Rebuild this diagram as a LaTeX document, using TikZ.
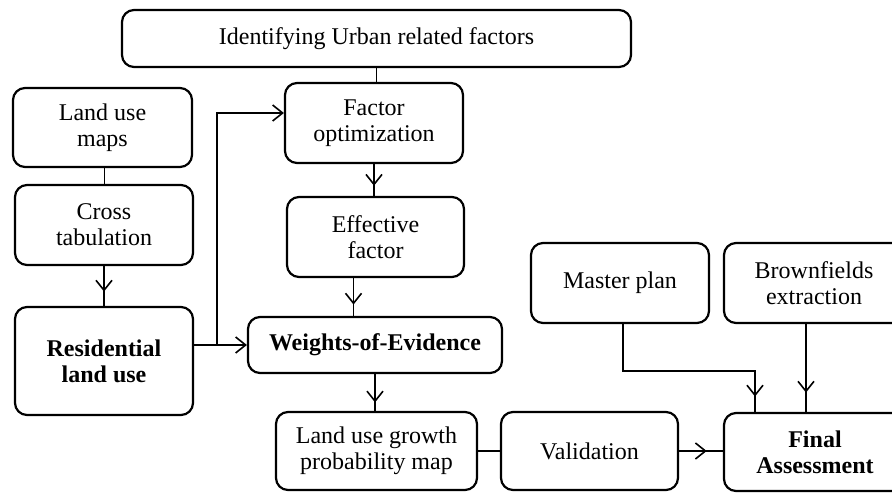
\documentclass[tikz,border=0pt]{standalone}
\usepackage{fontspec}
\setmainfont{Liberation Serif}
\usetikzlibrary{arrows.meta,decorations.markings}

\tikzset{
  box/.style={draw, line width=2.2pt, rounded corners=12pt, align=center,
    inner sep=0pt, font=\fontsize{24}{26}\selectfont},
  boldbox/.style={box, font=\fontsize{24}{26}\selectfont\bfseries},
  link/.style={line width=1.6pt},
  arrowend/.style={-{Straight Barb[length=10pt,width=16pt,line width=1.6pt]}},
  midtip/.style={postaction={decorate},
    decoration={markings, mark=at position #1 with
      {\arrow{Straight Barb[length=10pt,width=16pt,line width=1.6pt]}}}}
}

\begin{document}
\begin{tikzpicture}[x=1pt,y=-1pt]
  \useasboundingbox (0,0) rectangle (892,493);
  \clip (0,0) rectangle (892,493);

  % the boxes
  \node[box, minimum width=509pt, minimum height=57pt] (urban)   at (376.5,38.5) {Identifying Urban related factors};
  \node[box, minimum width=179pt, minimum height=79pt] (landmap) at (102.5,127.5) {Land use\\maps};
  \node[box, minimum width=178pt, minimum height=80pt] (crosstab) at (104,225) {Cross\\tabulation};
  \node[boldbox, minimum width=178pt, minimum height=108pt] (resid) at (104,361) {Residential\\land use};
  \node[box, minimum width=178pt, minimum height=80pt] (factopt) at (374,123) {Factor\\optimization};
  \node[box, minimum width=177pt, minimum height=80pt] (efffac)  at (375.5,237) {Effective\\factor};
  \node[boldbox, minimum width=254pt, minimum height=56pt] (woe) at (375,345) {Weights-of-Evidence};
  \node[box, minimum width=201pt, minimum height=78pt] (lugpm)   at (376.5,451) {Land use growth\\probability map};
  \node[box, minimum width=177pt, minimum height=78pt] (valid)   at (589.5,451) {Validation};
  \node[box, minimum width=178pt, minimum height=80pt] (master)  at (620,283) {Master plan};
  \node[box, minimum width=180pt, minimum height=80pt] (brown)   at (814,283) {Brownfields\\extraction};
  \node[boldbox, minimum width=182pt, minimum height=78pt] (final) at (815,452) {Final\\Assessment};

  \coordinate (split) at (217,345);
  \coordinate (fo-in) at ([yshift=10pt]factopt.west);
  \coordinate (fin-a) at ([xshift=-60pt]final.north);

  % the connectors
  \draw[link] (urban.south) -- (urban.south |- factopt.north);
  \draw[link] ([xshift=2pt]landmap.south) -- ([xshift=2pt]landmap.south |- crosstab.north);
  \draw[link, midtip=0.64] (crosstab.south) -- (resid.north);
  \draw[link, midtip=0.68] (factopt.south) -- (factopt.south |- efffac.north);
  \draw[link, midtip=0.7] ([xshift=-22pt]efffac.south) -- ([xshift=-22pt]efffac.south |- woe.north);
  \draw[link, arrowend] (resid.east |- woe.west) -- (woe.west);
  \draw[link, arrowend] (split) |- (fo-in);
  \draw[link, midtip=0.77] (woe.south) -- (woe.south |- lugpm.north);
  \draw[link] (lugpm.east) -- (valid.west);
  \draw[link, midtip=0.63] (valid.east) -- (valid.east -| final.west);
  \draw[link, midtip=0.93] ([xshift=3pt]master.south) -- ++(0,47) -| (fin-a);
  \draw[link, midtip=0.78] ([xshift=-8pt]brown.south) -- ([xshift=-8pt]brown.south |- final.north);
\end{tikzpicture}
\end{document}
